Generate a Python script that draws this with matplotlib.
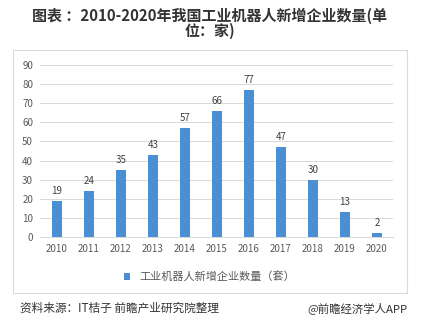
import matplotlib.pyplot as plt
from matplotlib.patches import Rectangle

plt.rcParams['font.family'] = ['Noto Sans CJK SC', 'DejaVu Sans']

years = ['2010', '2011', '2012', '2013', '2014', '2015', '2016', '2017', '2018', '2019', '2020']
counts = [19, 24, 35, 43, 57, 66, 77, 47, 30, 13, 2]

TITLE = '图表 ：2010-2020年我国工业机器人新增企业数量(单\n位：家)'
LEGEND = '工业机器人新增企业数量（套）'
SOURCE = '资料来源：IT桔子 前瞻产业研究院整理'
BRAND = '@前瞻经济学人APP'

fig = plt.figure(figsize=(4.24, 3.26), dpi=100)

# outer chart frame
fig.patches.append(Rectangle((13 / 424, 33 / 326), 394 / 424, 243 / 326,
                             transform=fig.transFigure, fill=False,
                             edgecolor='#d9d9d9', linewidth=0.8))

ax = fig.add_axes([40 / 424, 89 / 326, 353 / 424, 172 / 326])
x = list(range(len(years)))
bars = ax.bar(x, counts, width=0.32, color='#4a8fd3', zorder=3)
for xi, v in zip(x, counts):
    ax.text(xi, v + 2.5, str(v), ha='center', va='bottom', fontsize=7, color='#404040')

ax.set_ylim(0, 90)
ax.set_yticks(range(0, 91, 10))
ax.set_xlim(-0.53, 10.5)
ax.set_xticks(x)
ax.set_xticklabels(years)
ax.grid(axis='y', color='#d9d9d9', linewidth=0.7, zorder=0)
for s in ['top', 'right', 'left']:
    ax.spines[s].set_visible(False)
ax.spines['bottom'].set_color('#d9d9d9')
ax.tick_params(length=0, labelsize=7, colors='#595959', pad=5)

ax.legend([bars], [LEGEND], loc='upper center', bbox_to_anchor=(0.48, -0.14),
          frameon=False, fontsize=8, handlelength=0.6, handleheight=0.6,
          labelcolor='#595959')

fig.text(0.495, 0.978, TITLE, ha='center', va='top', fontsize=10.8,
         fontweight='bold', color='#333333', linespacing=0.92)
fig.text(20 / 424, 18 / 326, SOURCE, ha='left', va='center', fontsize=8.4, color='#333333')
fig.text(407 / 424, 18 / 326, BRAND, ha='right', va='center', fontsize=8.2, color='#333333')

fig.savefig('out.png', dpi=100)
